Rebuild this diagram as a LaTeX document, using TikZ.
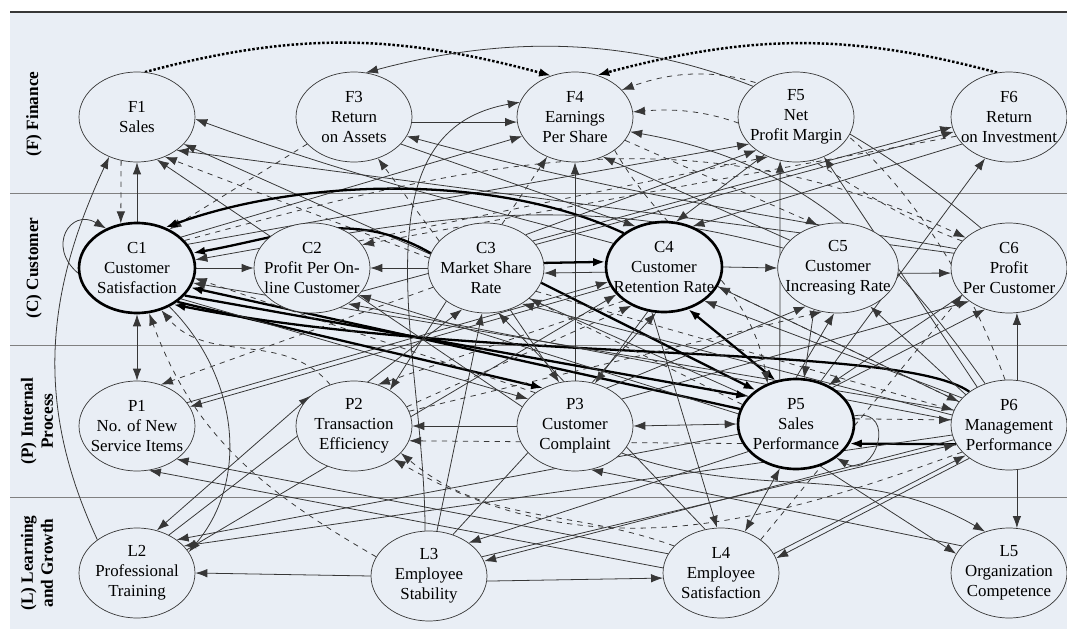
\documentclass[tikz,border=0pt]{standalone}
\usepackage{fontspec}
\setmainfont{Liberation Serif}
\usetikzlibrary{shapes.geometric, arrows.meta}

\definecolor{paper}{RGB}{233,238,245}
\definecolor{ink}{RGB}{55,55,55}

\tikzstyle{factor} = [ellipse, minimum width=2.32cm, minimum height=1.8cm, inner xsep=-0.2cm, inner ysep=0pt, align=center, draw=ink, fill=paper, font=\fontsize{9.6}{11.4}\selectfont]
\tikzstyle{keyfactor} = [factor, line width=1.5pt, draw=black]
\tikzstyle{band} = [rotate=90, align=center, font=\bfseries\fontsize{9.8}{11.4}\selectfont]
\tikzstyle{arrow} = [->, >={Latex[length=2.4mm,width=1.7mm]}, draw=ink, line width=0.45pt]
\tikzstyle{darrow} = [arrow, dashed]
\tikzstyle{karrow} = [arrow, draw=black, line width=1.3pt]
\tikzstyle{dotarrow} = [arrow, draw=black, dash pattern=on 1.4pt off 1.1pt, line width=1.4pt]

\pgfdeclarelayer{back}
\pgfdeclarelayer{links}
\pgfsetlayers{back,links,main}

\begin{document}
\begin{tikzpicture}[x=0.02cm, y=-0.02cm]
\useasboundingbox (0,0) rectangle (1067,631);

% perspectives
\begin{pgfonlayer}{back}
\fill [paper] (10,12) rectangle (1067,629);
\draw [ink, line width=0.8pt] (10,12) -- (1067,12);
\draw [gray] (10,193) -- (1067,193);
\draw [gray] (10,345) -- (1067,345);
\draw [gray] (10,497) -- (1067,497);
\end{pgfonlayer}

\node (bandF) [band] at (34,114) {(F) Finance};
\node (bandC) [band] at (34,268) {(C) Customer};
\node (bandP) [band] at (37,421) {(P) Internal\\Process};
\node (bandL) [band] at (37,563) {(L) Learning\\and Growth};

% finance
\node (F1) [factor] at (137,117) {F1\\Sales};
\node (F3) [factor] at (354,117) {F3\\Return\\on Assets};
\node (F4) [factor] at (575,117) {F4\\Earnings\\Per Share};
\node (F5) [factor] at (796,117) {F5\\Net\\Profit Margin};
\node (F6) [factor] at (1009,117) {F6\\Return\\on Investment};
% customer
\node (C1) [keyfactor] at (137,268) {C1\\Customer\\Satisfaction};
\node (C2) [factor] at (312,268) {C2\\Profit Per On-\\line Customer};
\node (C3) [factor] at (486,268) {C3\\Market Share\\Rate};
\node (C4) [keyfactor] at (664,267) {C4\\Customer\\Retention Rate};
\node (C5) [factor] at (838,268) {C5\\Customer\\Increasing Rate};
\node (C6) [factor] at (1009,268) {C6\\Profit\\Per Customer};
% internal process
\node (P1) [factor] at (137,426) {P1\\No. of New\\Service Items};
\node (P2) [factor] at (354,426) {P2\\Transaction\\Efficiency};
\node (P3) [factor] at (575,426) {P3\\Customer\\Complaint};
\node (P5) [keyfactor] at (796,424) {P5\\Sales\\Performance};
\node (P6) [factor] at (1009,425) {P6\\Management\\Performance};
% learning and growth
\node (L2) [factor] at (137,573) {L2\\Professional\\Training};
\node (L3) [factor] at (429,576) {L3\\Employee\\Stability};
\node (L4) [factor] at (721,573) {L4\\Employee\\Satisfaction};
\node (L5) [factor] at (1009,573) {L5\\Organization\\Competence};

\begin{pgfonlayer}{links}
% finance links
\draw [dotarrow] (F1.80) to[out=15,in=165] (F4.120);
\draw [dotarrow] (F6.105) to[out=165,in=15] (F4.62);
\draw [arrow] (F3.-5) -- (F4.185);
\draw [arrow] (C6.125) to[out=140,in=15] (F3.75);
\draw [darrow] (F1.-110) -- (C1.110);
\draw [arrow] (C1.north) -- (F1.south);
\draw [darrow] (F3.210) -- (C1.50);
\draw [arrow] (C4.155) to[out=165,in=-20] (F1.-2);
\draw [arrow] (P5.150) -- (F1.-30);
\draw [darrow] (C3.170) -- (F1.-55);
\draw [arrow] (P3.160) -- (F1.-65);
\draw [arrow] (C6.165) -- (F1.-40);
\draw [arrow] (L2.140) to[out=115,in=-115] (F1.-125);
\draw [darrow] (C3.150) -- (F3.-60);
\draw [arrow] (C6.160) to[out=170,in=-15] (F3.-20);
\draw [arrow] (L3.95) to[out=90,in=190] (F4.165);
\draw [arrow] (C1.35) -- (F4.200);
\draw [darrow] (C3.70) -- (F4.-125);
\draw [arrow] (P3.north) -- (F4.south);
\draw [arrow] (C5.150) -- (F4.-55);
\draw [darrow] (P6.95) to[out=110,in=20] (F4.30);
\draw [darrow] (C6.150) to[out=160,in=5] (F4.5);
\draw [arrow] (P6.120) to[out=125,in=-10] (F4.-15);
\draw [arrow] (C1.25) -- (F5.-150);
\draw [arrow] (C3.40) -- (F5.-140);
\draw [darrow] (C2.30) -- (F5.-125);
\draw [arrow] (P5.110) -- (F5.-110);
\draw [arrow] (P6.130) -- (F5.-55);
\draw [arrow] (C3.30) -- (F6.-170);
\draw [darrow] (F6.-160) -- (C2.25);
\draw [arrow] (P5.60) -- (F6.-120);
% customer links
\draw [arrow] (C1.east) -- (C2.west);
\draw [arrow] (C3.west) -- (C2.east);
\draw [karrow] (C3.5) -- (C4.175);
\draw [arrow] (C4.185) -- (C3.-5);
\draw [arrow] (C4.east) -- (C5.west);
\draw [arrow] (C5.-5) -- (C6.185);
\draw [arrow] (P6.80) -- (C6.-80);
\draw [karrow] (C4.140) to[out=155,in=20,looseness=0.8] (C1.55);
\draw [karrow] (C3.165) to[out=150,in=10] (C1.15);
\draw [arrow] (C1.185) to[out=140,in=150,looseness=2] (C1.128);
\draw [arrow] (C5.160) to[out=165,in=10] (C1.8);
\draw [darrow] (C1.30) to[out=15,in=155] (C6.145);
\draw [darrow] (F4.-25) -- (C5.115);
\draw [darrow] (P6.155) -- (C4.-20);
\draw [arrow] (F3.-30) -- (C4.125);
\draw [arrow] (F5.-130) -- (C4.75);
\draw [arrow] (F6.-150) -- (C4.55);
\draw [arrow] (C2.-25) -- (F6.-165);
% customer <-> process links
\draw [karrow] (P5.165) -- (C1.-20);
\draw [karrow] (C1.-30) -- (P5.150);
\draw [karrow] (C1.-40) -- (P3.130);
\draw [karrow] (C3.-15) -- (P5.140);
\draw [karrow, <->] (P5.115) -- (C4.-60);
\draw [karrow] (P6.140) .. controls +(-70,-50) and +(300,60) .. (C1.-45);
\draw [darrow] (P3.140) -- (C1.-10);
\draw [arrow] (P6.165) -- (C1.-15);
\draw [arrow, <->] (C1.south) -- (P1.north);
\draw [darrow] (P2.120) to[out=130,in=-50] (C1.-60);
\draw [arrow] (C1.-50) to[out=-45,in=50] (L2.22);
\draw [arrow] (P5.170) -- (C2.-30);
\draw [arrow] (P6.175) -- (C2.-45);
\draw [arrow] (L2.50) -- (C3.-120);
\draw [arrow] (L4.110) -- (C3.-75);
\draw [arrow] (P6.170) -- (C3.-45);
\draw [darrow] (P5.160) -- (C3.-35);
\draw [darrow] (C3.200) -- (P1.60);
\draw [arrow] (L2.25) -- (C4.-150);
\draw [arrow] (P1.25) -- (C4.-165);
\draw [darrow] (P2.20) -- (C4.-130);
\draw [arrow] (L3.60) -- (C4.-100);
\draw [arrow] (P6.150) -- (C4.-40);
\draw [arrow] (P3.50) -- (C5.-130);
\draw [darrow] (P2.15) -- (C5.-110);
\draw [arrow] (P5.90) -- (C5.-95);
\draw [arrow] (P6.145) -- (C5.-50);
\draw [arrow] (P3.30) -- (C6.-140);
\draw [arrow] (P5.45) -- (C6.-120);
\draw [darrow] (L4.40) -- (C6.-150);
\draw [darrow] (F4.-40) to[out=-60,in=100] (P5.125);
\draw [arrow] (C5.-120) -- (P5.80);
\draw [arrow] (C6.-150) -- (P5.50);
\draw [arrow] (C4.-20) -- (P6.155);
\draw [darrow] (C3.-25) -- (P6.165);
% process links
\draw [arrow] (P3.west) -- (P2.east);
\draw [arrow, <->] (P3.east) -- (P5.west);
\draw [darrow] (P5.5) -- (P6.175);
\draw [karrow] (P6.200) -- (P5.-20);
\draw [arrow] (P5.8) to[out=10,in=-30,looseness=2.5] (P5.-40);
\draw [arrow] (C4.-160) -- (P1.20);
\draw [arrow] (L4.160) -- (P1.-40);
\draw [arrow] (L4.175) -- (P1.-75);
\draw [arrow, <->] (L2.65) -- (P2.145);
\draw [darrow] (C4.-140) -- (P2.60);
\draw [arrow] (C3.-140) -- (P2.45);
\draw [darrow] (P5.-160) -- (P2.-15);
\draw [darrow] (P6.-150) to[out=-160,in=-30] (P2.-40);
\draw [arrow] (C1.-35) -- (P3.150);
\draw [arrow] (C3.-60) -- (P3.110);
\draw [arrow] (C4.-110) -- (P3.65);
\draw [arrow] (L5.150) -- (P3.-70);
\draw [arrow] (L3.20) -- (P6.-160);
\draw [arrow] (L4.20) -- (P6.-145);
% learning and growth links
\draw [arrow] (L3.west) -- (L2.east);
\draw [arrow] (L3.-5) -- (L4.185);
\draw [arrow] (P5.-150) -- (L3.40);
\draw [arrow] (P6.-165) -- (L3.15);
\draw [arrow] (P6.-80) -- (L5.80);
\draw [arrow] (P5.-60) -- (L5.160);
\draw [arrow, <->] (P5.-110) -- (L4.60);
\draw [arrow] (P6.-140) -- (L4.15);
\draw [arrow] (C4.-105) -- (L4.95);
\draw [arrow] (P3.-30) to[out=-20,in=150] (L5.120);
\draw [arrow] (P5.-170) -- (L2.40);
\draw [arrow] (P6.-170) -- (L2.30);
\draw [arrow] (L3.80) -- (C3.-95);
\draw [darrow] (L3.160) to[out=150,in=-70] (C1.-75);
\draw [darrow] (L4.150) to[out=160,in=-40] (P2.-30);
\end{pgfonlayer}
\end{tikzpicture}
\end{document}
